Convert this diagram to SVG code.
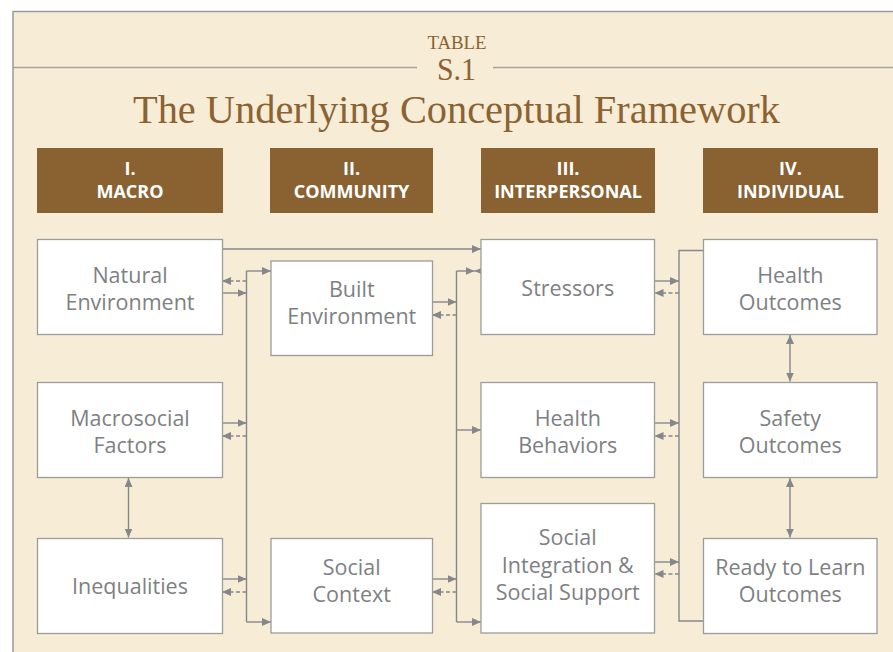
<svg xmlns="http://www.w3.org/2000/svg" width="893" height="652" viewBox="0 0 893 652">
<style>
.bg{fill:#F7ECD6;stroke:none}
.frame{fill:none;stroke:#9A9A9A;stroke-width:1.5}
.rule{stroke:#A8A39A;stroke-width:1.3;fill:none}
.ttl{font-family:"Liberation Serif",serif;fill:#8B6232}
.hdr rect{fill:#8A6232}
.hdr text{font-family:"Open Sans","Noto Sans",sans-serif;font-weight:bold;font-size:18px;fill:#FFFFFF;text-anchor:middle}
.node rect{fill:#FFFFFF;stroke:#9C9C9C;stroke-width:1.3}
.node text{font-family:"Open Sans","Noto Sans",sans-serif;font-size:21.5px;font-weight:500;fill:#7E7F83;text-anchor:middle}
.c{fill:none;stroke:#86878B;stroke-width:1.4}
.a{marker-end:url(#ah)}
.d{stroke-dasharray:4 2.5;marker-end:url(#ah)}
.b{marker-start:url(#ah);marker-end:url(#ah)}
</style>
<defs>
<marker id="ah" markerUnits="userSpaceOnUse" markerWidth="10" markerHeight="9" refX="9" refY="4" orient="auto-start-reverse">
<path d="M0,0 L9,4 L0,8 z" fill="#86878B"/>
</marker>
</defs>
<rect class="bg" x="13" y="11.5" width="880" height="641"/>
<path class="frame" d="M13,652 V11.5 H893"/>
<g id="title">
<path class="rule" d="M13,67.5 H417 M493,67.5 H893"/>
<text class="ttl" x="457" y="49" font-size="19" text-anchor="middle" textLength="59" lengthAdjust="spacingAndGlyphs">TABLE</text>
<text class="ttl" x="456.5" y="80" font-size="32" text-anchor="middle" textLength="39" lengthAdjust="spacingAndGlyphs">S.1</text>
<text class="ttl" x="456.5" y="123" font-size="40" text-anchor="middle" textLength="647" lengthAdjust="spacingAndGlyphs">The Underlying Conceptual Framework</text>
</g>
<g id="hdr-macro" class="hdr"><rect x="37" y="148" width="186" height="65"/><text x="130" y="175">I.</text><text x="130" y="198">MACRO</text></g>
<g id="hdr-community" class="hdr"><rect x="270" y="148" width="163" height="65"/><text x="351.5" y="175">II.</text><text x="351.5" y="198">COMMUNITY</text></g>
<g id="hdr-interpersonal" class="hdr"><rect x="481" y="148" width="174" height="65"/><text x="568" y="175">III.</text><text x="568" y="198">INTERPERSONAL</text></g>
<g id="hdr-individual" class="hdr"><rect x="703" y="148" width="175" height="65"/><text x="790.5" y="175">IV.</text><text x="790.5" y="198">INDIVIDUAL</text></g>
<g id="connectors">
<path class="c a" d="M222,249 H481"/>
<path class="c" d="M246.5,271 V622"/>
<path class="c a" d="M246.5,271 H271"/>
<path class="c a" d="M246.5,622 H271"/>
<path class="c a" d="M222,293 H246.5"/>
<path class="c a" d="M222,423 H246.5"/>
<path class="c a" d="M222,579 H246.5"/>
<path class="c d" d="M246.5,281 H222"/>
<path class="c d" d="M246.5,436 H222"/>
<path class="c d" d="M246.5,592 H222"/>
<path class="c" d="M456.5,271 V622"/>
<path class="c a" d="M456.5,271 H474.5"/>
<path class="c a" d="M481,271 H474.5"/>
<path class="c a" d="M456.5,430 H481"/>
<path class="c a" d="M456.5,622 H481"/>
<path class="c a" d="M432,302 H456.5"/>
<path class="c a" d="M432,579 H456.5"/>
<path class="c d" d="M456.5,315 H432"/>
<path class="c d" d="M456.5,592 H432"/>
<path class="c" d="M703,250.5 H679 V621 H703"/>
<path class="c a" d="M654.5,281 H679"/>
<path class="c a" d="M654.5,423 H679"/>
<path class="c a" d="M654.5,562 H679"/>
<path class="c d" d="M679,293 H654.5"/>
<path class="c d" d="M679,436 H654.5"/>
<path class="c d" d="M679,574 H654.5"/>
<path class="c b" d="M128.5,478 V537.5"/>
<path class="c b" d="M790,335 V381.5"/>
<path class="c b" d="M790,478 V537.5"/>
</g>
<g id="natural-environment" class="node"><rect x="37.5" y="239.5" width="185" height="95"/><text x="130" y="282.5">Natural</text><text x="130" y="310">Environment</text></g>
<g id="macrosocial-factors" class="node"><rect x="37.5" y="382.5" width="185" height="95"/><text x="130" y="425.5">Macrosocial</text><text x="130" y="453">Factors</text></g>
<g id="inequalities" class="node"><rect x="37.5" y="538.5" width="185" height="95"/><text x="130" y="594">Inequalities</text></g>
<g id="built-environment" class="node"><rect x="271" y="261" width="161.5" height="94.5"/><text x="351.75" y="296.5">Built</text><text x="351.75" y="324">Environment</text></g>
<g id="social-context" class="node"><rect x="271" y="538.5" width="161.5" height="94.5"/><text x="351.75" y="574.5">Social</text><text x="351.75" y="602">Context</text></g>
<g id="stressors" class="node"><rect x="481" y="239.5" width="173.5" height="95"/><text x="567.75" y="296">Stressors</text></g>
<g id="health-behaviors" class="node"><rect x="481" y="382.5" width="173.5" height="95"/><text x="567.75" y="425.5">Health</text><text x="567.75" y="453">Behaviors</text></g>
<g id="social-integration" class="node"><rect x="481" y="503.5" width="173.5" height="129.5"/><text x="567.75" y="545">Social</text><text x="567.75" y="572.5">Integration &amp;</text><text x="567.75" y="600">Social Support</text></g>
<g id="health-outcomes" class="node"><rect x="703.5" y="239.5" width="173.5" height="95"/><text x="790.25" y="282.5">Health</text><text x="790.25" y="310">Outcomes</text></g>
<g id="safety-outcomes" class="node"><rect x="703.5" y="382.5" width="173.5" height="95"/><text x="790.25" y="425.5">Safety</text><text x="790.25" y="453">Outcomes</text></g>
<g id="ready-to-learn" class="node"><rect x="703.5" y="538.5" width="173.5" height="95"/><text x="790.25" y="574.5">Ready to Learn</text><text x="790.25" y="602">Outcomes</text></g>
</svg>
